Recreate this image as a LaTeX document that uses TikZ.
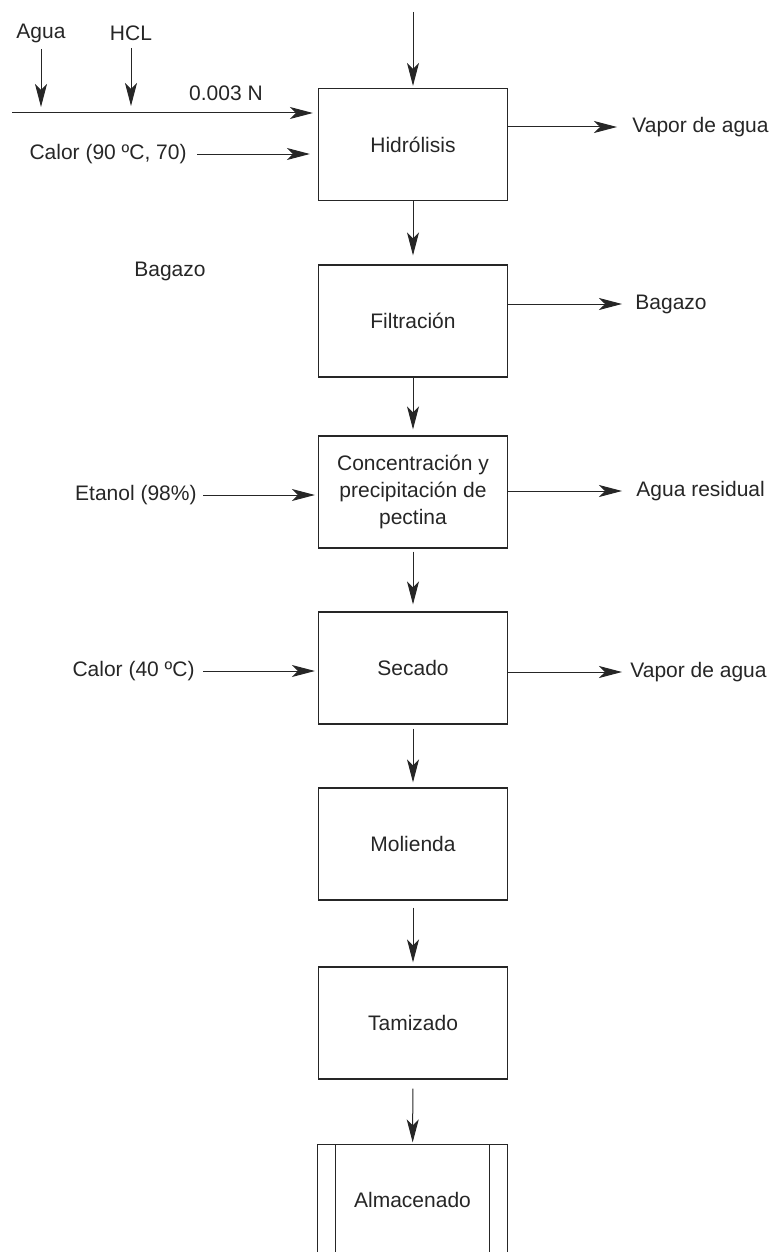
\documentclass[tikz,border=0pt]{standalone}
\usepackage{fontspec}
\setmainfont{Liberation Sans}
\usetikzlibrary{arrows.meta}
\definecolor{inkgray}{gray}{0.15}
\tikzstyle{proc} = [draw, rectangle, line width=0.6pt, minimum width=94.5pt, minimum height=56pt, inner sep=0pt, align=center, draw=inkgray]

\begin{document}
\begin{tikzpicture}[x=0.5pt,y=-0.5pt,
			font=\fontsize{10.5}{13.5}\selectfont,
			every node/.style={text=inkgray},
			txt/.style={inner sep=0pt},
			store/.style={proc,draw=none,minimum height=55pt},
			flow/.style={draw=inkgray,line width=0.5pt,-{Stealth[length=11.5pt,width=6pt,inset=3pt]}},
			outflow/.style={flow,shorten >=6.5pt}]
			\useasboundingbox (0,0) rectangle (774,1252);
			\node (hidro) [proc] at (413,144.5) {Hidrólisis};
			\node (filt) [proc] at (413,321) {Filtración};
			\node (conc) [proc] at (413,492) {Concentración y\\precipitación de\\pectina};
			\node (sec) [proc] at (413,668) {Secado};
			\node (mol) [proc] at (413,844) {Molienda};
			\node (tam) [proc] at (413,1023) {Tamizado};
			\node (alm) [store] at (412.5,1200) {Almacenado};
			\draw [inkgray,line width=0.6pt] (alm.south west) -- (alm.north west) -- (alm.north east) -- (alm.south east);
			\draw [inkgray,line width=0.6pt] ([xshift=9pt]alm.north west) -- ([xshift=9pt]alm.south west);
			\draw [inkgray,line width=0.6pt] ([xshift=-9pt]alm.north east) -- ([xshift=-9pt]alm.south east);

			\coordinate (top) at (413,12);
			\coordinate (feed) at (12,113);
			\node (agua) [txt] at (41,33) {Agua};
			\node (hcl) [txt] at (131,33) {HCL};
			\node (norm) [txt] at (226,93) {0.003 N};
			\node (cal90) [txt,anchor=east] at (187,154) {Calor (90 ºC, 70)};
			\node (bagL) [txt] at (170,271) {Bagazo};
			\node (etanol) [txt,anchor=east] at (197,495) {Etanol (98\%)};
			\node (cal40) [txt,anchor=east] at (195,671) {Calor (40 ºC)};

			\node (vap1) [txt,anchor=west] at (632,127) {Vapor de agua};
			\node (bagR) [txt,anchor=west] at (635,304) {Bagazo};
			\node (resid) [txt,anchor=west] at (636,491) {Agua residual};
			\node (vap2) [txt,anchor=west] at (630,672) {Vapor de agua};

			\draw [flow,shorten >=1pt] (top) -- (hidro.north);
			\draw [flow,shorten >=2.5pt] (feed) -- (feed -| hidro.west);
			\draw [flow,shorten <=3pt,shorten >=3pt] (agua) -- (agua |- feed);
			\draw [flow,shorten <=3.5pt,shorten >=3.5pt] (hcl) -- (hcl |- feed);
			\draw [flow,shorten <=5pt,shorten >=4pt] (cal90.east) -- (cal90.east -| hidro.west);
			\draw [flow,shorten <=3pt,shorten >=1.5pt] (etanol.east) -- (etanol.east -| conc.west);
			\draw [flow,shorten <=4pt,shorten >=1.5pt] (cal40.east) -- (cal40.east -| sec.west);

			\draw [flow,shorten >=4.5pt] (hidro) -- (filt);
			\draw [flow,shorten >=3pt] (filt) -- (conc);
			\draw [flow,shorten <=1.5pt,shorten >=3.5pt] (conc) -- (sec);
			\draw [flow,shorten <=2pt,shorten >=2.5pt] (sec) -- (mol);
			\draw [flow,shorten <=3.5pt,shorten >=2pt] (mol) -- (tam);
			\draw [flow,shorten <=4.5pt,shorten >=1pt] (tam) -- (alm);

			\draw [outflow,shorten >=7.5pt] (hidro.east |- vap1) -- (vap1.west);
			\draw [outflow] (filt.east |- bagR) -- (bagR.west);
			\draw [outflow,shorten >=7pt] (conc.east |- resid) -- (resid.west);
			\draw [outflow,shorten >=4pt] (sec.east |- vap2) -- (vap2.west);
		\end{tikzpicture}
\end{document}
